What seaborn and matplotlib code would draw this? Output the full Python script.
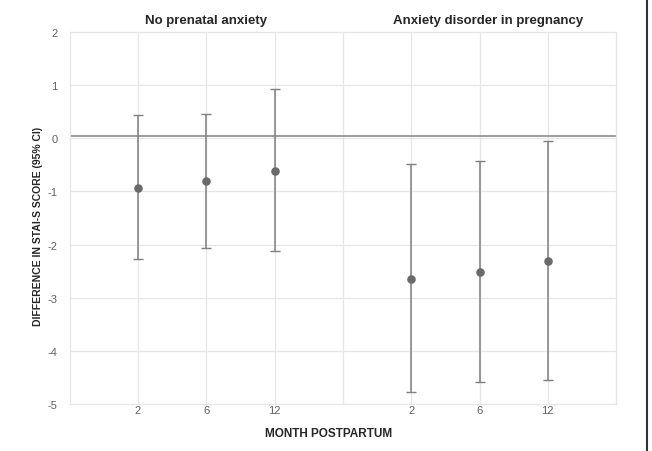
import numpy as np
import pandas as pd
import seaborn as sns
import matplotlib.pyplot as plt
from matplotlib.lines import Line2D

groups = ["No prenatal anxiety", "Anxiety disorder in pregnancy"]
months = ["2", "6", "12"]

# differences and 95% CI
no_anx_mean = [-0.93, -0.81, -0.61]
no_anx_low = [-2.27, -2.06, -2.13]
no_anx_high = [0.43, 0.46, 0.92]

anx_mean = [-2.64, -2.51, -2.30]
anx_low = [-4.77, -4.58, -4.55]
anx_high = [-0.48, -0.42, -0.06]


def main():
    rows = []
    for g, (means, lows, highs) in enumerate([(no_anx_mean, no_anx_low, no_anx_high),
                                              (anx_mean, anx_low, anx_high)]):
        for i, m in enumerate(months):
            rows.append({"group": groups[g], "month": m, "pos": g * 4 + i + 1,
                         "mean": means[i], "low": lows[i], "high": highs[i]})
    df = pd.DataFrame(rows)

    sns.set_style("white")
    plt.rcParams["font.family"] = ["Liberation Sans", "DejaVu Sans"]
    plt.rcParams["axes.unicode_minus"] = False

    fig = plt.figure(figsize=(6.52, 4.52), dpi=100)
    ax = fig.add_axes([0.107, 0.104, 0.838, 0.823])

    grid_c = "#e6e6e6"
    for x in range(1, 8):
        ax.axvline(x, color=grid_c, lw=0.9, zorder=0)
    for y in range(-4, 2):
        ax.axhline(y, color=grid_c, lw=0.9, zorder=0)
    ax.axhline(0.05, color="#8c8c8c", lw=1.2, zorder=1)

    ax.errorbar(df["pos"], df["mean"],
                yerr=[df["mean"] - df["low"], df["high"] - df["mean"]],
                fmt="none", ecolor="#7f7f7f", elinewidth=1.1, capsize=3.5,
                capthick=1.0, zorder=2)
    sns.scatterplot(data=df, x="pos", y="mean", ax=ax, color="#6a6a6a", s=38,
                    edgecolor="#6a6a6a", linewidth=0, zorder=3, legend=False)

    ax.set_xlim(0, 8)
    ax.set_ylim(-5, 2)
    ax.set_xticks(df["pos"])
    ax.set_xticklabels(df["month"])
    ax.set_yticks(range(-5, 3))
    ax.tick_params(axis="both", length=0, labelsize=8, labelcolor="#606060")
    ax.tick_params(axis="x", pad=1)
    ax.tick_params(axis="y", pad=9)
    for s in ax.spines.values():
        s.set_color(grid_c)
        s.set_linewidth(0.9)

    ax.set_xlabel("MONTH POSTPARTUM", fontsize=8.5, fontweight="bold")
    ax.xaxis.set_label_coords(0.474, -0.062)
    ax.set_ylabel("DIFFERENCE IN STAI-S SCORE (95% CI)", fontsize=7.5,
                  fontweight="bold")
    ax.yaxis.set_label_coords(-0.049, 0.48)

    for g, name in enumerate(groups):
        ax.text(g * 4.13 + 2, 2.22, name, ha="center", va="center",
                fontsize=9.5, fontweight="bold")

    fig.add_artist(Line2D([0.993, 0.993], [0, 1], transform=fig.transFigure,
                          color="#333333", lw=1.5))

    fig.savefig("out.png", dpi=100)


if __name__ == '__main__':
    main()
